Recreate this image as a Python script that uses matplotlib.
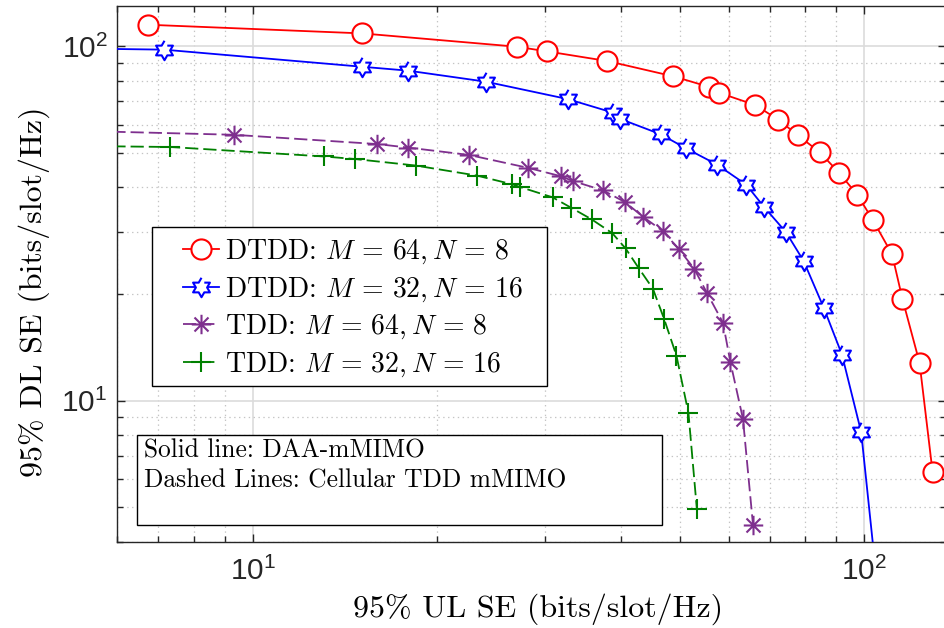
import numpy as np
import matplotlib
matplotlib.use("Agg")
import matplotlib.pyplot as plt
from matplotlib.path import Path
from matplotlib.patches import Rectangle
from matplotlib.ticker import FixedLocator, LogLocator, NullFormatter

# 95% UL / DL spectral efficiency pairs (bits/slot/Hz)
dtdd_64_8_ul = [6.74, 15.08, 26.99, 30.27, 37.99, 48.72, 55.80, 57.95, 66.31, 72.31,
                77.77, 84.49, 90.9, 97.4, 103.2, 111.0, 115.4, 123.1, 129.3]
dtdd_64_8_dl = [115.1, 108.8, 99.8, 96.8, 90.9, 82.3, 76.8, 73.9, 68.3, 62.1,
                56.2, 50.3, 44.0, 38.1, 32.4, 25.9, 19.4, 12.8, 6.29]

dtdd_32_16_ul = [5.5, 7.15, 15.08, 17.94, 24.04, 32.72, 38.81, 39.88, 46.42, 51.02,
                 57.39, 64.10, 68.65, 74.44, 79.55, 85.81, 91.9, 98.8, 105.0]
dtdd_32_16_dl = [98.5, 97.9, 87.6, 85.4, 79.5, 71.0, 65.0, 62.4, 56.5, 51.6,
                 46.4, 40.7, 35.1, 29.9, 24.8, 18.3, 13.5, 8.16, 3.0]

tdd_64_8_ul = [5.5, 9.30, 15.98, 17.94, 22.54, 28.20, 31.90, 33.34, 37.42, 40.65,
               43.39, 46.82, 49.70, 52.66, 55.32, 58.72, 60.35, 63.31, 65.75]
tdd_64_8_dl = [57.6, 56.3, 53.0, 51.8, 49.4, 45.4, 43.0, 41.7, 39.2, 36.3,
               33.1, 30.1, 26.8, 23.6, 20.1, 16.6, 12.9, 8.88, 4.46]

tdd_32_16_ul = [5.5, 7.33, 13.06, 14.67, 18.45, 23.22, 26.56, 27.34, 30.90, 33.19,
                35.80, 38.70, 40.69, 42.73, 45.10, 47.05, 49.28, 51.56, 53.21]
tdd_32_16_dl = [52.3, 52.0, 48.9, 48.1, 46.1, 43.2, 40.8, 40.1, 37.5, 35.0,
                32.5, 29.7, 26.9, 23.7, 20.7, 17.0, 13.4, 9.23, 4.96]

series_labels = [r"DTDD: $M\,=\,64, N\,=\,8$", r"DTDD: $M\,=\,32, N\,=\,16$",
                 r"TDD: $M\,=\,64, N\,=\,8$", r"TDD: $M\,=\,32, N\,=\,16$"]
x_tick_values = [10, 100]
x_tick_labels = [r"$\mathregular{10^{1}}$", r"$\mathregular{10^{2}}$"]
y_tick_values = [10, 100]
y_tick_labels = [r"$\mathregular{10^{1}}$", r"$\mathregular{10^{2}}$"]
x_label = "95% UL SE (bits/slot/Hz)"
y_label = "95% DL SE (bits/slot/Hz)"
note_lines = ["Solid line: DAA-mMIMO", "Dashed Lines: Cellular TDD mMIMO"]

plt.rcParams["mathtext.fontset"] = "cm"
plt.rcParams["lines.scale_dashes"] = False

# six-pointed star (hexagram) marker
ang = np.deg2rad(90 + 30 * np.arange(12))
rad = np.where(np.arange(12) % 2 == 0, 1.0, 1 / np.sqrt(3))
hexagram = list(zip(rad * np.cos(ang), rad * np.sin(ang)))

# asterisk marker: a plus with a slightly shorter cross
d = 0.72
ast_path = Path([(0, -1), (0, 1), (-1, 0), (1, 0), (-d, -d), (d, d), (-d, d), (d, -d)],
                [Path.MOVETO, Path.LINETO] * 4)

purple = "#7E2F8E"
green = "#008000"

W, H = 945, 628
ax_l, ax_r, ax_t, ax_b = 117.3, 946.0, 6.0, 541.7


def ax_frac(px, py):
    return (px - ax_l) / (ax_r - ax_l), (ax_b - py) / (ax_b - ax_t)


fig = plt.figure(figsize=(W / 100, H / 100), dpi=100)
ax = fig.add_axes([ax_l / W, (H - ax_b) / H, (ax_r - ax_l) / W, (ax_b - ax_t) / H])
ax.set_xscale("log")
ax.set_yscale("log")

ax.plot(dtdd_64_8_ul, dtdd_64_8_dl, "-", color="red", lw=1.3, marker="o", ms=14.5,
        mfc="white", mec="red", mew=1.5, label=series_labels[0], zorder=4)
ax.plot(dtdd_32_16_ul, dtdd_32_16_dl, "-", color="blue", lw=1.3, marker=hexagram, ms=14,
        mfc="white", mec="blue", mew=1.5, label=series_labels[1], zorder=4)
ax.plot(tdd_64_8_ul, tdd_64_8_dl, color=purple, lw=1.3, dashes=(9.5, 3.6), marker=ast_path,
        ms=14, mfc=purple, mec=purple, mew=1.5, label=series_labels[2], zorder=4)
ax.plot(tdd_32_16_ul, tdd_32_16_dl, color=green, lw=1.3, dashes=(9.5, 3.6), marker="+",
        ms=15, mec=green, mew=1.5, label=series_labels[3], zorder=4)

ax.set_xlim(6, 136)
ax.set_ylim(4, 130)

ax.xaxis.set_major_locator(FixedLocator(x_tick_values))
ax.yaxis.set_major_locator(FixedLocator(y_tick_values))
ax.xaxis.set_minor_locator(LogLocator(base=10, subs=np.arange(2, 10)))
ax.yaxis.set_minor_locator(LogLocator(base=10, subs=np.arange(2, 10)))
ax.xaxis.set_minor_formatter(NullFormatter())
ax.yaxis.set_minor_formatter(NullFormatter())
ax.set_xticklabels(x_tick_labels, fontfamily="Liberation Sans", fontsize=21.5, color="#262626")
ax.set_yticklabels(y_tick_labels, fontfamily="Liberation Sans", fontsize=21.5, color="#262626")

ax.tick_params(which="both", direction="in", top=True, right=True, color="#262626", width=1)
ax.tick_params(which="major", length=6, pad=11)
ax.tick_params(axis="y", which="major", pad=7)
ax.tick_params(which="minor", length=4)

ax.grid(True, which="major", color="#dcdcdc", linestyle="-", linewidth=1.2, zorder=0)
ax.grid(True, which="minor", color="#c4c4c4", linestyle=(0, (1, 2.5)), linewidth=0.9, zorder=0)
ax.set_axisbelow(True)
for sp in ax.spines.values():
    sp.set_color("#262626")
    sp.set_linewidth(1.0)

# legend frame drawn separately so the inner padding can be set freely
fx0, fy1 = ax_frac(151.7, 226.7)
fx1, fy0 = ax_frac(547.3, 385.7)
ax.add_patch(Rectangle((fx0, fy0), fx1 - fx0, fy1 - fy0, transform=ax.transAxes,
                       facecolor="white", edgecolor="black", lw=1.0, zorder=5))
lx, ly = ax_frac(182.7, 237.0)
leg = ax.legend(loc="upper left", bbox_to_anchor=(lx, ly), borderaxespad=0, borderpad=0,
                prop={"family": "cmr10", "size": 20}, frameon=False,
                handlelength=1.32, handletextpad=0.22, labelspacing=0.34)
leg.set_zorder(6)

# annotation box describing the line styles
bx0, by1 = ax_frac(136.7, 435.0)
bx1, by0 = ax_frac(662.3, 525.3)
ax.add_patch(Rectangle((bx0, by0), bx1 - bx0, by1 - by0, transform=ax.transAxes,
                       facecolor="white", edgecolor="black", lw=1.0, zorder=6))
tx, ty1 = ax_frac(144.3, 457.3)
_, ty2 = ax_frac(144.3, 487.3)
ax.text(tx, ty1, note_lines[0], transform=ax.transAxes, family="cmr10",
        fontsize=18.3, va="baseline", ha="left", zorder=7)
ax.text(tx, ty2, note_lines[1], transform=ax.transAxes, family="cmr10",
        fontsize=18.3, va="baseline", ha="left", zorder=7)

fig.text(538.3 / W, (H - 616.7) / H, x_label, family="cmr10", fontsize=23,
         ha="center", va="baseline")
fig.text(41.5 / W, (H - 292) / H, y_label, family="cmr10", fontsize=23,
         ha="center", va="baseline", rotation=90, rotation_mode="anchor")

fig.savefig("out.png", dpi=100)
